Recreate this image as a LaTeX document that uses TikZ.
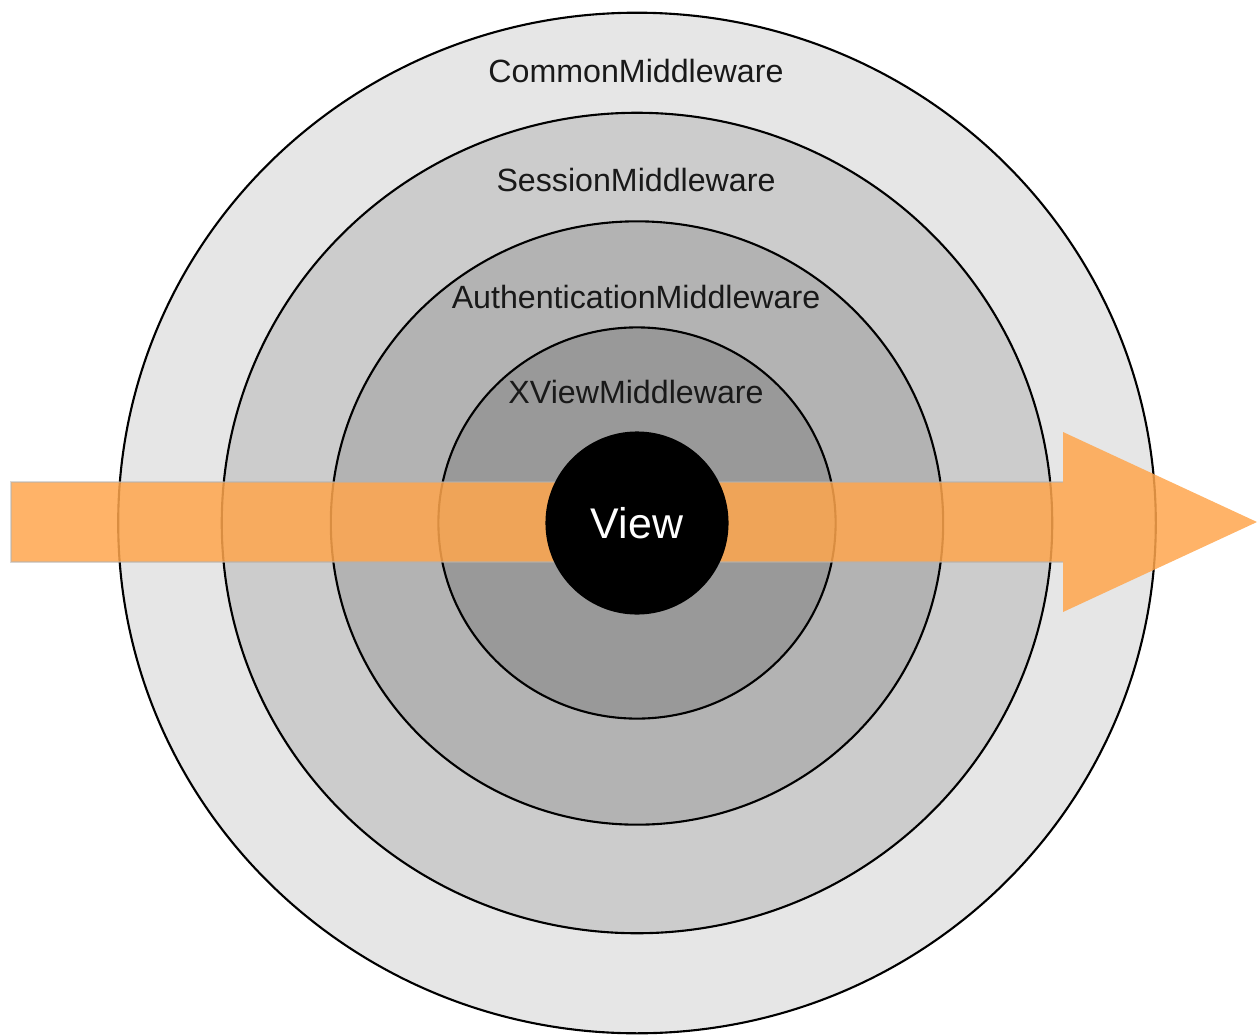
\documentclass[tikz,border=0pt]{standalone}
\usepackage{fontspec}
\setmainfont{Liberation Sans}
\usetikzlibrary{shapes.geometric}
\definecolor{ringA}{HTML}{E6E6E6}
\definecolor{ringB}{HTML}{CCCCCC}
\definecolor{ringC}{HTML}{B3B3B3}
\definecolor{ringD}{HTML}{999999}
\definecolor{flow}{HTML}{FFA64D}
\begin{document}
\begin{tikzpicture}[x=0.01cm,y=-0.01cm,
  ring/.style={ellipse, draw=black, line width=0.6pt, inner sep=0pt},
  ringlabel/.style={anchor=base, inner sep=0pt, font=\fontsize{9.15pt}{10pt}\selectfont, text=black!90},
  flowarrow/.style={fill=flow, fill opacity=0.85},
  flowedge/.style={draw=black!30, draw opacity=0.5, line width=0.3pt}
]
\useasboundingbox (0,0) rectangle (1257,1036);
\node[ring, fill=ringA, minimum width=10.37cm, minimum height=10.2cm] (ring1) at (637,523) {};
\node[ring, fill=ringB, minimum width=8.3cm, minimum height=8.2cm] (ring2) at (637,523) {};
\node[ring, fill=ringC, minimum width=6.12cm, minimum height=6.03cm] (ring3) at (637,523) {};
\node[ring, fill=ringD, minimum width=3.97cm, minimum height=3.91cm] (ring4) at (637,523) {};
\node[ringlabel] (l1) at (636,82) {CommonMiddleware};
\node[ringlabel] (l2) at (636,191) {SessionMiddleware};
\node[ringlabel] (l3) at (636,308) {AuthenticationMiddleware};
\node[ringlabel] (l4) at (636,403) {XViewMiddleware};
\fill[flowarrow] (11,482) -- (1063,482) -- (1063,432) -- (1257,522) -- (1063,612) -- (1063,562) -- (11,562) -- cycle;
\draw[flowedge] (1063,482) -- (11,482) -- (11,562) -- (1063,562);
\node[circle, fill=black, inner sep=0pt, minimum size=1.83cm, text=white,
      font=\fontsize{12.2pt}{14pt}\selectfont] (view) at (637,523) {View};
\end{tikzpicture}
\end{document}
